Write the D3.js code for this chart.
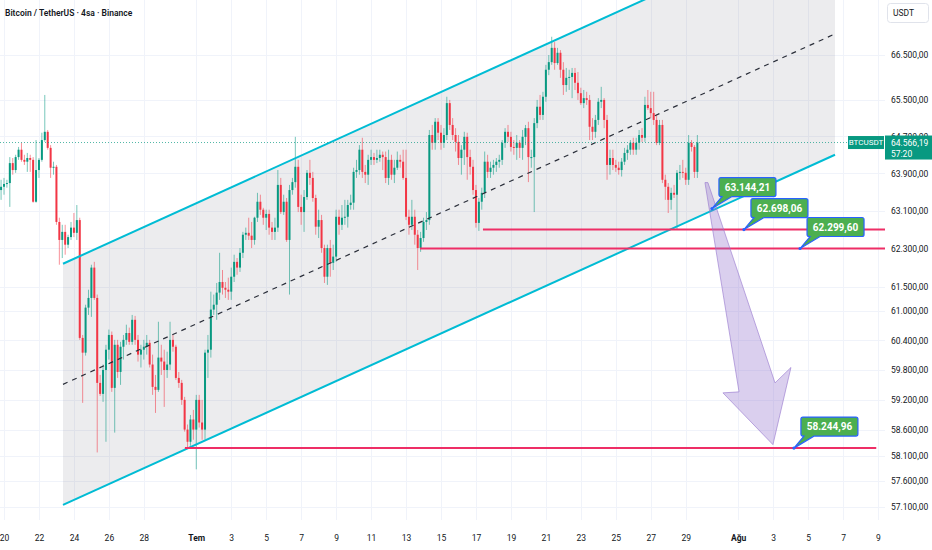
<!DOCTYPE html>
<html>
<head>
<meta charset="utf-8">
<script src="https://cdn.jsdelivr.net/npm/d3@7"></script>
<style>
  body { margin: 0; background: #fff; }
  svg { display: block; font-family: Roboto, "Liberation Sans", sans-serif; }
</style>
</head>
<body>
<svg id="chart"></svg>
<script>
const WIDTH = 932, HEIGHT = 550;
const PLOT_RIGHT = 885, PLOT_BOTTOM = 520;

const title = 'Bitcoin / TetherUS · 4sa · Binance';
const symbol = 'BTCUSDT';
const quote = 'USDT';
const countdown = '57:20';

// 4h candles, the first one opens 19 Jun 16:00, open = previous close
const firstCandle = Date.UTC(2024, 5, 19, 16);
const firstOpen = 63010;
const highs = [
  63590, 63760, 63800, 63760, 64250, 64230, 64300, 64470, 64560, 64300, 64340, 64300,
  64250, 64620, 64230, 64780, 65610, 64840, 64510, 64150, 64080, 62950, 62800, 62800,
  62590, 62860, 63050, 63220, 62950, 60510, 61130, 61440, 61960, 62020, 61340, 59700,
  59910, 60310, 60620, 60580, 60410, 60410, 60370, 60510, 60720, 60660, 60920, 60900,
  60510, 60310, 60410, 60510, 60410, 60110, 59700, 60780, 60310, 60210, 60170, 60780,
  60510, 60310, 59760, 59600, 59260, 58710, 58900, 59000, 59300, 59300, 59200, 60210,
  60510, 61400, 61340, 61580, 62210, 61850, 61600, 61690, 61900, 62170, 62100, 62310,
  62650, 62740, 62950, 62860, 62970, 63480, 63440, 63160, 63120, 63120, 62860, 62950,
  63970, 63800, 63440, 63370, 63650, 63800, 64690, 64190, 63440, 63540, 63970, 64190,
  63930, 63440, 63120, 63010, 62380, 62380, 62480, 62380, 63120, 63120, 63220, 63330,
  63330, 63440, 64020, 64190, 64510, 64670, 64080, 64300, 64410, 64340, 64410, 64410,
  64370, 64370, 64410, 64300, 64190, 64370, 64300, 64410, 64410, 63120, 63330, 63120,
  62690, 62650, 62950, 63070, 64840, 64950, 65100, 65100, 64950, 64880, 65570, 65500,
  65100, 64880, 64730, 64510, 64800, 64780, 64410, 64190, 63650, 63370, 63590, 64370,
  64300, 64150, 64190, 64230, 64300, 64620, 64880, 64950, 64800, 64620, 64730, 64620,
  64840, 64950, 65020, 64410, 65100, 65500, 65610, 65680, 66280, 66500, 66910, 66790,
  66660, 66610, 66340, 66210, 66170, 66210, 66210, 66120, 65770, 65720, 65680, 65610,
  65100, 65170, 65540, 65790, 65540, 65170, 64410, 64410, 64190, 64150, 64230, 64450,
  64510, 64620, 64670, 64670, 64840, 64880, 65570, 65720, 65680, 65680, 65170, 65060,
  65060, 63870, 63690, 63590, 63650, 63970, 64080, 64190, 64020, 64730, 64620, 64510,
  64730
];
const lows = [
  62970, 63330, 63440, 63590, 63180, 63870, 63910, 64190, 64150, 64080, 63930, 63930,
  63270, 63270, 63800, 64150, 64580, 64410, 63800, 63870, 62800, 61960, 62100, 62170,
  62310, 62480, 62540, 62480, 60410, 59140, 60090, 60920, 60880, 61230, 58160, 59280,
  59160, 58370, 60010, 59360, 58550, 59640, 59500, 60010, 60310, 60310, 60310, 60310,
  59970, 59850, 60010, 60110, 59850, 59300, 58940, 59360, 59700, 59060, 59640, 59800,
  60170, 59600, 59440, 59100, 58570, 58250, 58290, 58410, 57830, 58650, 58410, 58410,
  59640, 60050, 60920, 60820, 61230, 61340, 61270, 61230, 61230, 61600, 61750, 61810,
  62100, 62480, 62480, 62310, 62380, 62860, 63010, 62800, 62690, 62590, 62480, 62480,
  62650, 63030, 63010, 62440, 61340, 63440, 63590, 63070, 62800, 62650, 63330, 63650,
  63290, 62590, 62520, 62210, 61580, 61540, 61710, 61850, 62020, 62590, 62690, 62800,
  62740, 63120, 63120, 63800, 63870, 63800, 63690, 63650, 64080, 64080, 64120, 64150,
  63970, 63690, 63650, 63760, 63690, 63970, 64020, 63760, 62900, 62590, 62690, 62380,
  61850, 62230, 62440, 62690, 62800, 64410, 64410, 64620, 64410, 64450, 64620, 64840,
  64620, 64370, 64080, 63870, 64080, 63760, 63870, 63440, 62740, 62670, 63120, 63370,
  63800, 63800, 63870, 63930, 64020, 64080, 64450, 64580, 64370, 64300, 64190, 64230,
  64190, 64510, 63710, 64020, 63070, 64880, 65060, 65060, 65460, 66050, 66280, 66170,
  66280, 65990, 65610, 65680, 65720, 65540, 65720, 65500, 65390, 65320, 65390, 64620,
  64620, 64670, 64950, 65320, 64880, 63760, 63870, 63970, 63930, 63870, 63830, 64080,
  64190, 64300, 64300, 64300, 64410, 64580, 64580, 65280, 65100, 64950, 64510, 64510,
  63690, 63330, 63050, 63120, 63370, 62690, 63760, 63800, 63650, 63650, 64370, 63800,
  63800
];
const closes = [
  63540, 63610, 63670, 63690, 64120, 63970, 64250, 64410, 64190, 64150, 64230, 64190,
  63290, 63970, 64190, 64620, 64800, 64450, 64020, 64040, 62860, 62480, 62650, 62380,
  62540, 62740, 62630, 62900, 60450, 60150, 61070, 61270, 61900, 61270, 59540, 59320,
  59800, 60210, 60510, 59440, 60310, 59760, 60270, 60410, 60550, 60370, 60820, 60410,
  60110, 60210, 60270, 60350, 59910, 59460, 59400, 60050, 59970, 59800, 59910, 60410,
  60270, 59640, 59540, 59200, 58610, 58370, 58810, 58610, 59200, 58750, 58610, 60150,
  60210, 61030, 61130, 61380, 61600, 61480, 61440, 61400, 61710, 62020, 61900, 62210,
  62590, 62630, 62570, 62480, 62950, 63290, 63120, 62950, 63030, 62740, 62650, 62740,
  63650, 63070, 63290, 62480, 63540, 63710, 64040, 63180, 63070, 63390, 63910, 63800,
  63370, 62760, 62900, 62310, 61710, 62310, 62000, 62130, 62970, 62800, 62950, 62970,
  63220, 63270, 63930, 63970, 64410, 63930, 63870, 64190, 64250, 64190, 64230, 64300,
  64250, 63800, 64190, 63870, 64020, 64190, 64150, 63800, 62970, 62800, 62970, 62590,
  62310, 62520, 62860, 62900, 64730, 64560, 65020, 64780, 64560, 64730, 65430, 64950,
  64730, 64580, 64230, 64410, 64690, 64250, 64040, 63540, 62840, 63290, 63480, 64150,
  63930, 64020, 64080, 64150, 64190, 64560, 64800, 64690, 64470, 64450, 64560, 64450,
  64690, 64880, 64250, 64250, 64990, 65350, 65170, 65570, 66170, 66340, 66660, 66320,
  66550, 66170, 65830, 65990, 66010, 66100, 65880, 65650, 65430, 65540, 65500, 64910,
  64800, 65060, 65460, 65500, 65060, 64080, 64230, 64080, 64020, 63970, 64150, 64340,
  64410, 64560, 64410, 64560, 64730, 64670, 65390, 65320, 65210, 65060, 64560, 64950,
  63760, 63610, 63330, 63480, 63440, 63910, 63930, 63910, 63760, 64560, 64470, 63930,
  64566.19
];

const yTicks = [66500, 65500, 64700, 63900, 63100, 62300, 61500, 61000, 60400, 59800, 59200, 58600, 58100, 57600, 57100];
const xTickDates = [
  '2024-06-20', '2024-06-22', '2024-06-24', '2024-06-26', '2024-06-28', '2024-07-01',
  '2024-07-03', '2024-07-05', '2024-07-07', '2024-07-09', '2024-07-11', '2024-07-13',
  '2024-07-15', '2024-07-17', '2024-07-19', '2024-07-21', '2024-07-23', '2024-07-25',
  '2024-07-27', '2024-07-29', '2024-08-01', '2024-08-03', '2024-08-05', '2024-08-07', '2024-08-09'
];
const monthNames = ['Oca', 'Şub', 'Mar', 'Nis', 'May', 'Haz', 'Tem', 'Ağu', 'Eyl', 'Eki', 'Kas', 'Ara'];

// drawings: times are day offsets from 20 Jun 00:00
const channelDays = [3.375, 47.54];
const channelUpper = [61980, 69760];
const channelMid = [59510, 66975];
const channelLower = [57140, 64300];

const levelPrices = [62698.06, 62299.60, 58244.96];
const levelStartDays = [27.4, 23.8, 10.35];
const levelEndDays = [50.5, 50.5, 49.9];

const calloutPrices = [63144.21, 62698.06, 62299.60, 58244.96];
const calloutDays = [40.5, 42.33, 45.54, 45.19];

const arrowDays = [40.10, 42.05, 41.13, 43.99, 45.02, 44.11, 40.27];
const arrowPrices = [63700, 59360, 59340, 58313, 59850, 59540, 63700];

const UP = '#089981', DOWN = '#f23645', CYAN = '#00bcd4', PINK = '#ee2e66';
const TEXT = '#131722', GRID = '#f0f3fa';

const trFormat = d3.formatLocale({ decimal: ',', thousands: '.', grouping: [3], currency: ['', ''] }).format(',.2f');
const dayBase = Date.UTC(2024, 5, 20);
const fromDays = d => new Date(dayBase + d * 864e5);

const x = d3.scaleUtc()
  .domain([new Date(Date.UTC(2024, 5, 20)), new Date(Date.UTC(2024, 7, 9))])
  .range([4, 878]);
const y = d3.scaleLog()
  .domain([66500, 57100])
  .range([55, 507]);

const svg = d3.select('#chart').attr('width', WIDTH).attr('height', HEIGHT);

svg.append('defs').append('clipPath').attr('id', 'plot')
  .append('rect').attr('width', PLOT_RIGHT).attr('height', PLOT_BOTTOM);

// grid
const xTicks = xTickDates.map(s => new Date(s + 'T00:00:00Z'));
const grid = svg.append('g').attr('stroke', GRID).attr('stroke-width', 1);
grid.selectAll('.hg').data(yTicks).enter().append('line')
  .attr('x1', 0).attr('x2', PLOT_RIGHT)
  .attr('y1', d => Math.round(y(d)) + 0.5).attr('y2', d => Math.round(y(d)) + 0.5);
grid.selectAll('.vg').data(xTicks).enter().append('line')
  .attr('y1', 0).attr('y2', PLOT_BOTTOM)
  .attr('x1', d => Math.round(x(d)) + 0.5).attr('x2', d => Math.round(x(d)) + 0.5);

const plot = svg.append('g').attr('clip-path', 'url(#plot)');

// channel fill
const chan = i => [
  [x(fromDays(channelDays[i])), y(channelUpper[i])],
  [x(fromDays(channelDays[i])), y(channelLower[i])]
];
plot.append('path')
  .attr('d', d3.line()([chan(0)[0], chan(1)[0], chan(1)[1], chan(0)[1]]) + 'Z')
  .attr('fill', '#787b86').attr('fill-opacity', 0.14);

// candles
const candles = closes.map((c, i) => ({
  t: new Date(firstCandle + i * 4 * 3600e3),
  o: i ? closes[i - 1] : firstOpen,
  h: highs[i], l: lows[i], c
}));
const bars = plot.append('g').selectAll('.candle')
  .data(candles).enter().append('g')
    .attr('class', 'candle')
    .attr('fill', d => d.c >= d.o ? UP : DOWN)
    .attr('stroke', d => d.c >= d.o ? UP : DOWN);
bars.append('line')
  .attr('x1', d => x(d.t)).attr('x2', d => x(d.t))
  .attr('y1', d => y(d.h)).attr('y2', d => y(d.l))
  .attr('stroke-width', 1).attr('stroke-opacity', 0.55);
bars.append('rect')
  .attr('x', d => x(d.t) - 1).attr('width', 2)
  .attr('y', d => y(Math.max(d.o, d.c)))
  .attr('height', d => Math.max(1, y(Math.min(d.o, d.c)) - y(Math.max(d.o, d.c))))
  .attr('stroke', 'none');

// channel lines
const lineOf = prices => channelDays.map((d, i) => [x(fromDays(d)), y(prices[i])]);
plot.append('path').attr('d', d3.line()(lineOf(channelUpper)))
  .attr('stroke', CYAN).attr('stroke-width', 2).attr('fill', 'none');
plot.append('path').attr('d', d3.line()(lineOf(channelLower)))
  .attr('stroke', CYAN).attr('stroke-width', 2).attr('fill', 'none');
plot.append('path').attr('d', d3.line()(lineOf(channelMid)))
  .attr('stroke', '#2a2e39').attr('stroke-width', 1.2).attr('stroke-dasharray', '5,5').attr('fill', 'none');

// last price line
const last = closes[closes.length - 1];
plot.append('line')
  .attr('x1', 0).attr('x2', 848)
  .attr('y1', y(last)).attr('y2', y(last))
  .attr('stroke', UP).attr('stroke-width', 1).attr('stroke-dasharray', '1,2').attr('stroke-opacity', 0.7);

// horizontal levels
svg.append('g').selectAll('line').data(levelPrices).enter().append('line')
  .attr('x1', (d, i) => x(fromDays(levelStartDays[i])))
  .attr('x2', (d, i) => Math.min(PLOT_RIGHT, x(fromDays(levelEndDays[i]))))
  .attr('y1', d => y(d)).attr('y2', d => y(d))
  .attr('stroke', PINK).attr('stroke-width', 2);

// arrow
svg.append('path')
  .attr('d', d3.line()(arrowDays.map((d, i) => [x(fromDays(d)), y(arrowPrices[i])])) + 'Z')
  .attr('fill', 'rgba(149,117,205,0.35)')
  .attr('stroke', 'rgba(149,117,205,0.6)').attr('stroke-width', 1);

// callouts
const BOX_W = 57, BOX_H = 19;
const callouts = svg.append('g').selectAll('.callout')
  .data(calloutPrices).enter().append('g')
    .attr('class', 'callout')
    .attr('transform', (d, i) => `translate(${x(fromDays(calloutDays[i]))},${y(d)})`);
callouts.append('path')
  .attr('d', () => {
    const bx = 7, by = -31, r = 2;
    return `M${bx + r},${by} H${bx + BOX_W - r} Q${bx + BOX_W},${by} ${bx + BOX_W},${by + r}` +
      ` V${by + BOX_H - r} Q${bx + BOX_W},${by + BOX_H} ${bx + BOX_W - r},${by + BOX_H}` +
      ` H${bx + 13} L0,0 L${bx + 3},${by + BOX_H} H${bx + r} Q${bx},${by + BOX_H} ${bx},${by + BOX_H - r}` +
      ` V${by + r} Q${bx},${by} ${bx + r},${by} Z`;
  })
  .attr('fill', '#4caf50').attr('stroke', '#2962ff').attr('stroke-width', 1.2);
callouts.append('circle').attr('r', 1.6).attr('fill', '#2962ff');
callouts.append('text')
  .attr('x', 7 + BOX_W / 2).attr('y', -31 + BOX_H / 2).attr('dy', '0.35em')
  .attr('text-anchor', 'middle').attr('fill', '#fff')
  .attr('font-size', 10).attr('font-weight', 700)
  .text(d => trFormat(d));

// axes
const xAxis = d3.axisBottom(x)
  .tickValues(xTicks).tickSize(0).tickPadding(0)
  .tickFormat(d => d.getUTCDate() === 1 ? monthNames[d.getUTCMonth()] : d.getUTCDate());
const gx = svg.append('g').attr('transform', `translate(0,${535})`).call(xAxis);
gx.select('.domain').remove();
gx.selectAll('text')
  .attr('fill', TEXT).attr('font-size', 8.5)
  .attr('font-family', 'Roboto, "Liberation Sans", sans-serif')
  .attr('font-weight', d => d.getUTCDate() === 1 ? 700 : 400);

const yAxis = d3.axisRight(y).tickValues(yTicks).tickSize(0).tickPadding(6).tickFormat(trFormat);
const gy = svg.append('g').attr('transform', `translate(${PLOT_RIGHT},0)`).call(yAxis);
gy.select('.domain').remove();
gy.selectAll('text')
  .attr('fill', TEXT).attr('font-size', 8.5)
  .attr('font-family', 'Roboto, "Liberation Sans", sans-serif');

// last price labels
const ly = y(last);
svg.append('rect').attr('x', 848).attr('y', ly - 6.5).attr('width', 36).attr('height', 13).attr('fill', UP);
svg.append('text').attr('x', 866).attr('y', ly).attr('dy', '0.35em')
  .attr('text-anchor', 'middle').attr('fill', '#fff').attr('font-size', 8).text(symbol);
svg.append('rect').attr('x', 885).attr('y', ly - 7).attr('width', 47).attr('height', 24).attr('fill', UP);
svg.append('text').attr('x', 891).attr('y', ly).attr('dy', '0.35em')
  .attr('fill', '#fff').attr('font-size', 8.5).text(trFormat(last));
svg.append('text').attr('x', 891).attr('y', ly + 11).attr('dy', '0.35em')
  .attr('fill', '#fff').attr('font-size', 8.5).text(countdown);

// quote currency box
svg.append('rect').attr('x', 887.5).attr('y', 3.5).attr('width', 41).attr('height', 19).attr('rx', 3)
  .attr('fill', '#fff').attr('stroke', '#e0e3eb');
svg.append('text').attr('x', 893).attr('y', 13).attr('dy', '0.35em')
  .attr('fill', TEXT).attr('font-size', 8.5).text(quote);

// title
svg.append('text').attr('x', 5).attr('y', 13).attr('dy', '0.35em')
  .attr('fill', TEXT).attr('font-size', 8.5).attr('font-weight', 600).text(title);
</script>
</body>
</html>
